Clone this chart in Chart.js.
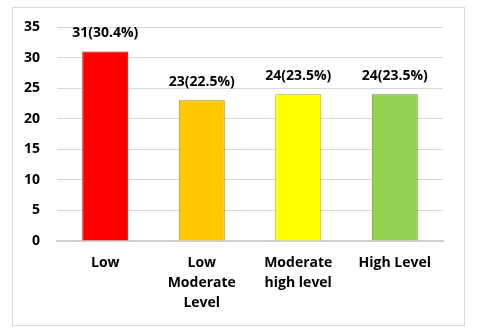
<!DOCTYPE html>
<html>
<head>
<meta charset="utf-8">
<script src="https://cdn.jsdelivr.net/npm/chart.js@4/dist/chart.umd.min.js"></script>
<style>
html,body{margin:0;padding:0;background:#fff;}
#wrap{position:relative;width:478px;height:333px;}
#frame{position:absolute;left:12px;top:7px;width:451px;height:317px;border:1px solid #d9d9d9;box-sizing:content-box;}
canvas{position:absolute;left:0;top:0;}
</style>
</head>
<body>
<div id="wrap"><div id="frame"></div><canvas id="c" width="478" height="333"></canvas></div>
<script>
const categories = [["Low"], ["Low", "Moderate", "Level"], ["Moderate", "high level"], ["High Level"]];
const values = [31, 23, 24, 24];
const valueLabels = ["31(30.4%)", "23(22.5%)", "24(23.5%)", "24(23.5%)"];
const barColors = ["#FF0000", "#FFC800", "#FFFF00", "#92D050"];
const edgeColors = ["#B00000", "#B38600", "#B3B300", "#5E8A30"];
const yTicks = [0, 5, 10, 15, 20, 25, 30, 35];

const FONT = "'Open Sans', sans-serif";

function barFill(ctx) {
  const chart = ctx.chart;
  const i = ctx.dataIndex;
  const meta = chart.getDatasetMeta(0);
  const el = meta.data[i];
  if (!el || !chart.chartArea) return barColors[i];
  const w = el.width || 46;
  const x0 = el.x - w / 2, x1 = el.x + w / 2;
  if (!isFinite(x0)) return barColors[i];
  const g = chart.ctx.createLinearGradient(x0, 0, x1, 0);
  g.addColorStop(0, edgeColors[i]);
  g.addColorStop(0.05, barColors[i]);
  g.addColorStop(0.92, barColors[i]);
  g.addColorStop(1, edgeColors[i]);
  return g;
}

const labelPlugin = {
  id: 'valueLabels',
  afterDatasetsDraw(chart) {
    const c = chart.ctx;
    const meta = chart.getDatasetMeta(0);
    c.save();
    c.font = "bold 14px " + FONT;
    c.fillStyle = "#000";
    c.textAlign = "center";
    c.textBaseline = "middle";
    meta.data.forEach((el, i) => {
      c.fillText(valueLabels[i], el.x, el.y - 18);
    });
    c.restore();
  }
};

new Chart(document.getElementById('c'), {
  type: 'bar',
  data: {
    labels: categories,
    datasets: [{
      data: values,
      backgroundColor: barFill,
      borderColor: edgeColors,
      borderWidth: 1,
      categoryPercentage: 1.0,
      barPercentage: 0.477
    }]
  },
  options: {
    responsive: false,
    animation: false,
    devicePixelRatio: 1,
    layout: { padding: { top: 27, right: 35, left: 0, bottom: 0 } },
    plugins: { legend: { display: false }, tooltip: { enabled: false } },
    scales: {
      x: {
        grid: { display: false, drawTicks: false },
        border: { display: true, color: '#d0d0d0', width: 2 },
        ticks: {
          color: '#000', padding: 12, maxRotation: 0, autoSkip: false,
          font: { family: FONT, size: 14, weight: 'bold', lineHeight: 1.43 }
        },
        afterFit(s) { s.height = 92; }
      },
      y: {
        min: 0, max: 35,
        afterBuildTicks(s) { s.ticks = yTicks.map(v => ({ value: v })); },
        grid: { color: '#d9d9d9', drawTicks: false, lineWidth: 1 },
        border: { display: false },
        ticks: {
          color: '#000', padding: 17,
          font: { family: FONT, size: 14, weight: 'bold' }
        },
        afterFit(s) { s.width = 57; }
      }
    }
  },
  plugins: [labelPlugin]
});
</script>
</body>
</html>
